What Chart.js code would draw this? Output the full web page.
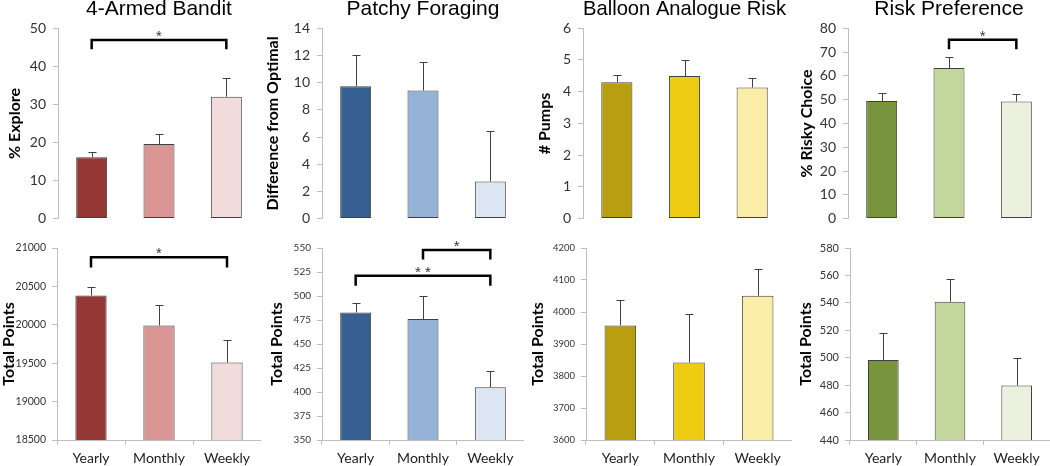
<!doctype html>
<html lang="en">
<head>
<meta charset="utf-8">
<title>Time horizon tasks</title>
<script src="https://cdn.jsdelivr.net/npm/chart.js@4.4.0/dist/chart.umd.min.js"></script>
<style>
  body { margin: 0; background: #fff; width: 1050px; height: 466px; position: relative; overflow: hidden; }
  canvas { position: absolute; }
</style>
</head>
<body>
<canvas id="c1"></canvas>
<canvas id="c2"></canvas>
<canvas id="c3"></canvas>
<canvas id="c4"></canvas>
<canvas id="c5"></canvas>
<canvas id="c6"></canvas>
<canvas id="c7"></canvas>
<canvas id="c8"></canvas>
<script>
// ---- data ----
const periods = ['Yearly', 'Monthly', 'Weekly'];

// top row: behaviour measures
const banditExplore = [16.1, 19.6, 32.0];
const banditExploreSE = [1.3, 2.6, 4.9];
const foragingDiff = [9.74, 9.42, 2.72];
const foragingDiffSE = [2.26, 2.07, 3.73];
const balloonPumps = [4.30, 4.49, 4.13];
const balloonPumpsSE = [0.24, 0.50, 0.30];
const riskyChoice = [49.4, 63.3, 49.2];
const riskyChoiceSE = [3.3, 4.4, 3.2];

// bottom row: total points
const banditPoints = [20382, 19991, 19508];
const banditPointsSE = [113, 270, 296];
const foragingPoints = [482.8, 476, 405];
const foragingPointsSE = [9.8, 23.5, 17];
const balloonPoints = [3958, 3842, 4051];
const balloonPointsSE = [80, 151, 83];
const riskPoints = [498.4, 540.8, 479.7];
const riskPointsSE = [19.6, 16.8, 20];

// significance brackets: [from, to, top value, leg value, label]
const banditExploreSig = [[0, 2, 46.9, 44.5, '*']];
const riskyChoiceSig = [[1, 2, 75.1, 71.2, '*']];
const banditPointsSig = [[0, 2, 20878, 20747, '*']];
const foragingPointsSig = [[1, 2, 548, 538, '*'], [0, 2, 521, 510.7, '* *']];

const reds = ['#953735', '#d99694', '#f2dcdb'];
const blues = ['#376092', '#95b3d7', '#dce6f2'];
const golds = ['#b89f0f', '#efcc14', '#f9eda8'];
const greens = ['#77933c', '#c3d69b', '#ebf1de'];

// error bars + brackets
const errorBars = {
  id: 'errorBars',
  afterDatasetsDraw(chart, args, opts) {
    const ctx = chart.ctx;
    const y = chart.scales.y;
    const meta = chart.getDatasetMeta(0);
    const vals = chart.data.datasets[0].data;
    ctx.save();
    ctx.strokeStyle = '#404040';
    ctx.lineWidth = 1;
    meta.data.forEach((bar, i) => {
      const x = Math.round(bar.x) + 0.5;
      const top = Math.round(y.getPixelForValue(vals[i] + opts.se[i])) + 0.5;
      ctx.beginPath();
      ctx.moveTo(x, bar.y);
      ctx.lineTo(x, top);
      ctx.moveTo(x - 4, top);
      ctx.lineTo(x + 4, top);
      ctx.stroke();
    });
    ctx.strokeStyle = '#000';
    ctx.lineWidth = 2.5;
    ctx.fillStyle = '#333';
    ctx.font = '15px "Liberation Sans"';
    ctx.textAlign = 'center';
    ctx.textBaseline = 'alphabetic';
    (opts.sig || []).forEach(s => {
      const x1 = meta.data[s[0]].x, x2 = meta.data[s[1]].x;
      const t = y.getPixelForValue(s[2]), l = y.getPixelForValue(s[3]);
      ctx.beginPath();
      ctx.moveTo(x1, l);
      ctx.lineTo(x1, t);
      ctx.lineTo(x2, t);
      ctx.lineTo(x2, l);
      ctx.stroke();
      ctx.fillText(s[4], (x1 + x2) / 2, t + 1);
    });
    ctx.restore();
  }
};

function panel(p) {
  const cv = document.getElementById(p.id);
  cv.width = p.w;
  cv.height = p.h;
  cv.style.left = p.left + 'px';
  cv.style.top = p.top + 'px';
  const top = p.top < 100;
  return new Chart(cv, {
    type: 'bar',
    data: {
      labels: periods,
      datasets: [{
        data: p.data,
        backgroundColor: p.colors,
        borderColor: '#404040',
        borderWidth: 1,
        borderSkipped: false,
        barPercentage: 0.46,
        categoryPercentage: 1
      }]
    },
    options: {
      responsive: false,
      animation: false,
      layout: { padding: { top: top ? 0 : 16, left: 0, right: 0, bottom: 0 } },
      plugins: {
        legend: { display: false },
        tooltip: { enabled: false },
        title: {
          display: !!p.title,
          text: p.title,
          fullSize: false,
          color: '#000',
          font: { family: 'Liberation Sans', size: 21, weight: 'normal' },
          padding: { top: 0, bottom: 6 }
        },
        errorBars: { se: p.se, sig: p.sig }
      },
      scales: {
        x: {
          ticks: { display: !top, color: '#222', font: { family: 'Lato', size: 14 }, padding: 5 },
          grid: { display: !top, drawOnChartArea: false, tickLength: 5, color: '#bfbfbf', offset: true },
          border: { display: !top, color: '#bfbfbf' },
          afterFit: s => { s.height = top ? 12 : 26; }
        },
        y: {
          min: p.min,
          max: p.max,
          ticks: {
            stepSize: p.step,
            color: '#333',
            font: { family: 'Lato', size: p.tickSize },
            padding: top ? 7 : 6,
            callback: v => String(v)
          },
          grid: { drawOnChartArea: false, tickLength: 5, color: '#bfbfbf' },
          border: { color: '#bfbfbf' },
          title: {
            display: true,
            text: p.ylabel,
            color: '#000',
            font: { family: 'Lato', size: 16, weight: 'bold' },
            padding: { top: p.labelPad, bottom: 0 }
          },
          afterFit: s => { s.width = p.axisW; }
        }
      }
    },
    plugins: [errorBars]
  });
}

panel({ id: 'c1', left: 0, top: -3, w: 260, h: 237, axisW: 58, labelPad: 5.4, tickSize: 14,
  title: '4-Armed Bandit', ylabel: '% Explore', min: 0, max: 50, step: 10,
  data: banditExplore, se: banditExploreSE, sig: banditExploreSig, colors: reds });
panel({ id: 'c2', left: 262, top: -3, w: 262, h: 237, axisW: 60, labelPad: 1.4, tickSize: 14,
  title: 'Patchy Foraging', ylabel: 'Difference from Optimal', min: 0, max: 14, step: 2,
  data: foragingDiff, se: foragingDiffSE, colors: blues });
panel({ id: 'c3', left: 528, top: -3, w: 258, h: 237, axisW: 55, labelPad: 7.4, tickSize: 14,
  title: 'Balloon Analogue Risk', ylabel: '# Pumps', min: 0, max: 6, step: 1,
  data: balloonPumps, se: balloonPumpsSE, colors: golds });
panel({ id: 'c4', left: 790, top: -3, w: 260, h: 237, axisW: 58, labelPad: 7.4, tickSize: 14,
  title: 'Risk Preference', ylabel: '% Risky Choice', min: 0, max: 80, step: 10,
  data: riskyChoice, se: riskyChoiceSE, sig: riskyChoiceSig, colors: greens });

panel({ id: 'c5', left: 0, top: 232, w: 261, h: 234, axisW: 57, labelPad: -1, tickSize: 10.5,
  ylabel: 'Total Points', min: 18500, max: 21000, step: 500,
  data: banditPoints, se: banditPointsSE, sig: banditPointsSig, colors: reds });
panel({ id: 'c6', left: 262, top: 232, w: 262, h: 234, axisW: 60, labelPad: 5.4, tickSize: 10,
  ylabel: 'Total Points', min: 350, max: 550, step: 25,
  data: foragingPoints, se: foragingPointsSE, sig: foragingPointsSig, colors: blues });
panel({ id: 'c7', left: 526, top: 232, w: 266, h: 234, axisW: 60, labelPad: 2.4, tickSize: 9.5,
  ylabel: 'Total Points', min: 3600, max: 4200, step: 100,
  data: balloonPoints, se: balloonPointsSE, colors: golds });
panel({ id: 'c8', left: 794, top: 232, w: 256, h: 234, axisW: 56, labelPad: 2.4, tickSize: 11,
  ylabel: 'Total Points', min: 440, max: 580, step: 20,
  data: riskPoints, se: riskPointsSE, colors: greens });
</script>
</body>
</html>
